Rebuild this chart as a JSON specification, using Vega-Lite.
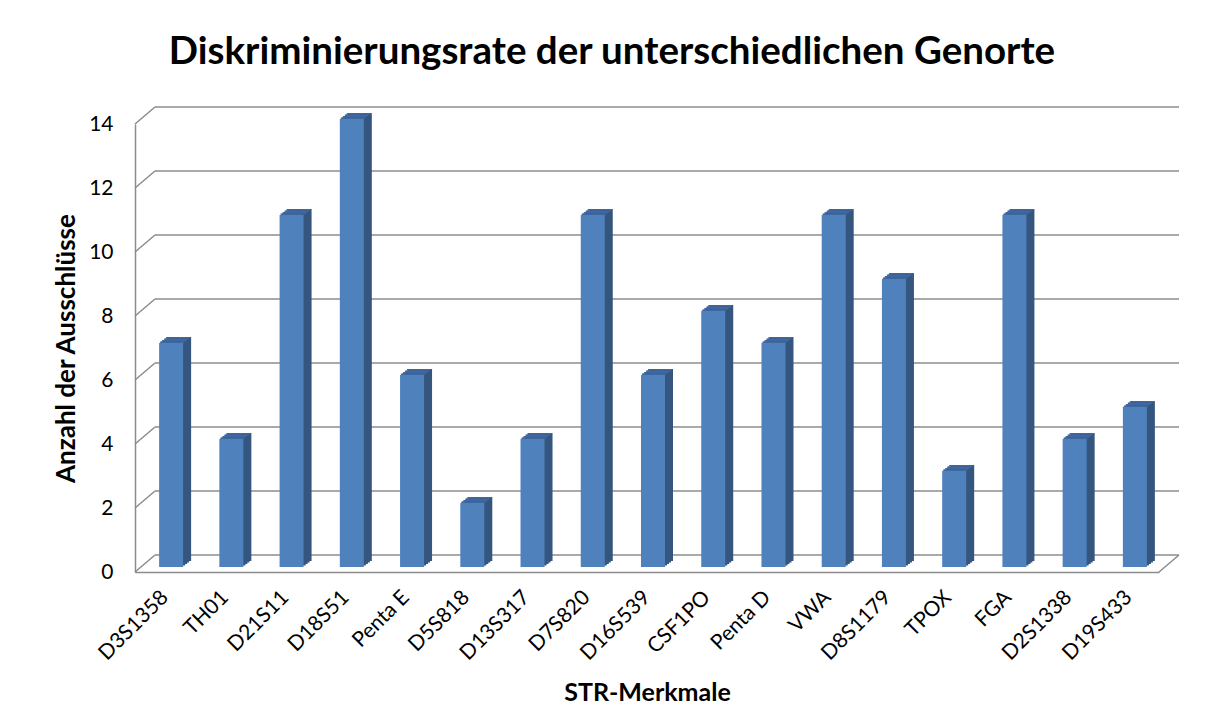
{
  "$schema": "https://vega.github.io/schema/vega-lite/v6.json",
  "width": 1024,
  "height": 448,
  "autosize": {"type": "none"},
  "padding": {"left": 135, "top": 124, "right": 49, "bottom": 155},
  "background": "white",
  "config": {
    "view": {"stroke": null},
    "font": "Lato",
    "axis": {
      "labelFont": "Lato", "titleFont": "Lato", "labelColor": "#000", "titleColor": "#000",
      "ticks": false, "grid": false, "domainColor": "#8c8c8c", "domainWidth": 1.5,
      "titleFontWeight": "bold"
    },
    "axisX": {
      "labelFontSize": 21, "titleFontSize": 25, "titlePadding": 17, "labelAngle": -45, "labelAlign": "right",
      "labelBaseline": "middle", "labelPadding": 22
    },
    "axisY": {
      "labelFontSize": 21, "titleFontSize": 26, "titlePadding": 9, "labelPadding": 22
    }
  },
  "title": {
    "text": "Diskriminierungsrate der unterschiedlichen Genorte",
    "font": "Lato",
    "fontSize": 38.5,
    "fontWeight": "bold",
    "color": "#000",
    "anchor": "middle",
    "frame": "group",
    "dx": -35,
    "offset": 34
  },
  "datasets": {
    "bars": [
      {"name": "D3S1358", "value": 7},
      {"name": "TH01", "value": 4},
      {"name": "D21S11", "value": 11},
      {"name": "D18S51", "value": 14},
      {"name": "Penta E", "value": 6},
      {"name": "D5S818", "value": 2},
      {"name": "D13S317", "value": 4},
      {"name": "D7S820", "value": 11},
      {"name": "D16S539", "value": 6},
      {"name": "CSF1PO", "value": 8},
      {"name": "Penta D", "value": 7},
      {"name": "VWA", "value": 11},
      {"name": "D8S1179", "value": 9},
      {"name": "TPOX", "value": 3},
      {"name": "FGA", "value": 11},
      {"name": "D2S1338", "value": 4},
      {"name": "D19S433", "value": 5}
    ],
    "grid": [
      {"t": 0}, {"t": 2}, {"t": 4}, {"t": 6}, {"t": 8}, {"t": 10}, {"t": 12}, {"t": 14}
    ],
    "floor": [{"t": 0}]
  },
  "layer": [
    {
      "data": {"name": "bars"},
      "mark": {"type": "bar", "width": 24, "color": "#4f81bd", "xOffset": 6, "yOffset": -5, "y2Offset": -5, "opacity": 0},
      "encoding": {
        "x": {
          "field": "name",
          "type": "nominal",
          "scale": {
            "domain": ["D3S1358", "TH01", "D21S11", "D18S51", "Penta E", "D5S818", "D13S317", "D7S820", "D16S539", "CSF1PO", "Penta D", "VWA", "D8S1179", "TPOX", "FGA", "D2S1338", "D19S433"],
            "paddingInner": 0,
            "paddingOuter": 0
          },
          "axis": {"title": "STR-Merkmale"}
        },
        "y": {
          "field": "value",
          "type": "quantitative",
          "scale": {"domain": [0, 14], "nice": false},
          "axis": {
            "title": "Anzahl der Ausschlüsse",
            "values": [0, 2, 4, 6, 8, 10, 12, 14]
          }
        }
      }
    },
    {
      "data": {"name": "grid"},
      "mark": {"type": "rule", "color": "#8c8c8c", "strokeWidth": 1.5, "xOffset": 20, "x2Offset": 20, "yOffset": -17},
      "encoding": {
        "x": {"datum": "D3S1358", "type": "nominal", "bandPosition": 0},
        "x2": {"datum": "D19S433", "bandPosition": 1},
        "y": {"field": "t", "type": "quantitative"}
      }
    },
    {
      "data": {"name": "grid"},
      "mark": {"type": "rule", "color": "#8c8c8c", "strokeWidth": 1.5, "x2Offset": 20, "y2Offset": -17},
      "encoding": {
        "x": {"datum": "D3S1358", "type": "nominal", "bandPosition": 0},
        "x2": {"datum": "D3S1358", "bandPosition": 0},
        "y": {"field": "t", "type": "quantitative"},
        "y2": {"field": "t"}
      }
    },
    {
      "data": {"name": "floor"},
      "mark": {"type": "rule", "color": "#8c8c8c", "strokeWidth": 1.5, "x2Offset": 20, "y2Offset": -17},
      "encoding": {
        "x": {"datum": "D19S433", "type": "nominal", "bandPosition": 1},
        "x2": {"datum": "D19S433", "bandPosition": 1},
        "y": {"field": "t", "type": "quantitative"},
        "y2": {"field": "t"}
      }
    },
    {
      "data": {"name": "bars"},
      "mark": {"type": "bar", "width": 24, "color": "#34567f", "xOffset": 14, "yOffset": -11, "y2Offset": -11},
      "encoding": {
        "x": {"field": "name", "type": "nominal"},
        "y": {"field": "value", "type": "quantitative"}
      }
    },
    {
      "data": {"name": "bars"},
      "mark": {"type": "bar", "width": 24, "color": "#34567f", "xOffset": 12, "yOffset": -9.5, "y2Offset": -9.5},
      "encoding": {
        "x": {"field": "name", "type": "nominal"},
        "y": {"field": "value", "type": "quantitative"}
      }
    },
    {
      "data": {"name": "bars"},
      "mark": {"type": "bar", "width": 24, "color": "#34567f", "xOffset": 10, "yOffset": -8, "y2Offset": -8},
      "encoding": {
        "x": {"field": "name", "type": "nominal"},
        "y": {"field": "value", "type": "quantitative"}
      }
    },
    {
      "data": {"name": "bars"},
      "mark": {"type": "bar", "width": 24, "color": "#34567f", "xOffset": 8, "yOffset": -6.5, "y2Offset": -6.5},
      "encoding": {
        "x": {"field": "name", "type": "nominal"},
        "y": {"field": "value", "type": "quantitative"}
      }
    },
    {
      "data": {"name": "bars"},
      "mark": {"type": "bar", "width": 24, "color": "#3f67a0", "xOffset": 7, "yOffset": -6.5, "y2Offset": -5},
      "encoding": {
        "x": {"field": "name", "type": "nominal"},
        "y": {"field": "value", "type": "quantitative"},
        "y2": {"field": "value"}
      }
    },
    {
      "data": {"name": "bars"},
      "mark": {"type": "bar", "width": 24, "color": "#3f67a0", "xOffset": 9, "yOffset": -8, "y2Offset": -6.5},
      "encoding": {
        "x": {"field": "name", "type": "nominal"},
        "y": {"field": "value", "type": "quantitative"},
        "y2": {"field": "value"}
      }
    },
    {
      "data": {"name": "bars"},
      "mark": {"type": "bar", "width": 24, "color": "#3f67a0", "xOffset": 11, "yOffset": -9.5, "y2Offset": -8},
      "encoding": {
        "x": {"field": "name", "type": "nominal"},
        "y": {"field": "value", "type": "quantitative"},
        "y2": {"field": "value"}
      }
    },
    {
      "data": {"name": "bars"},
      "mark": {"type": "bar", "width": 24, "color": "#3f67a0", "xOffset": 13, "yOffset": -11, "y2Offset": -9.5},
      "encoding": {
        "x": {"field": "name", "type": "nominal"},
        "y": {"field": "value", "type": "quantitative"},
        "y2": {"field": "value"}
      }
    },
    {
      "data": {"name": "bars"},
      "mark": {"type": "bar", "width": 24, "color": "#4f81bd", "xOffset": 6, "yOffset": -5, "y2Offset": -5},
      "encoding": {
        "x": {"field": "name", "type": "nominal"},
        "y": {"field": "value", "type": "quantitative"}
      }
    }
  ]
}
